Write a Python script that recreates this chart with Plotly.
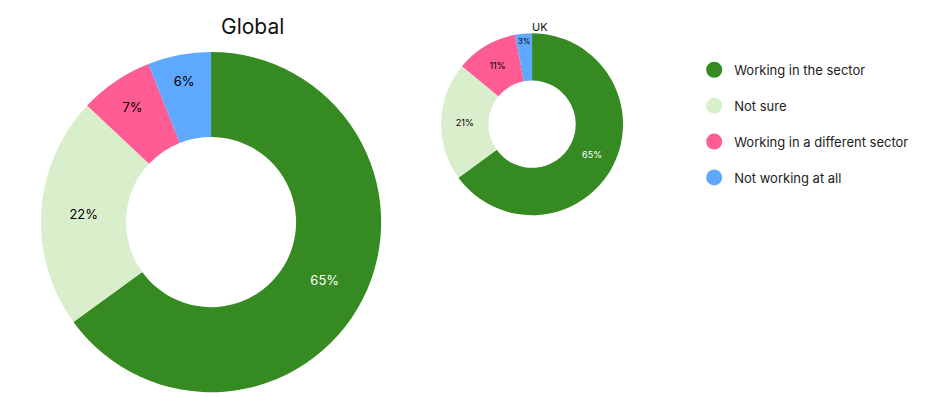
import plotly.graph_objects as go

labels = ["Working in the sector", "Not sure", "Working in a different sector", "Not working at all"]
global_vals = [65, 22, 7, 6]
uk_vals = [65, 21, 11, 3]
colors = ["#358A22", "#D9EFCC", "#FF5C93", "#5EA8FF"]
text_colors = ["white", "black", "black", "black"]

fig = go.Figure()
fig.add_trace(go.Pie(values=global_vals, labels=labels, hole=0.5, sort=False, direction="clockwise",
                     rotation=0, marker=dict(colors=colors), texttemplate="%{value}%", textposition="inside",
                     insidetextorientation="horizontal",
                     textfont=dict(color=text_colors, size=13), showlegend=False, hoverinfo="label+value",
                     domain=dict(x=[0.035, 0.397], y=[0.056, 0.892])))
fig.add_trace(go.Pie(values=uk_vals, labels=labels, hole=0.48, sort=False, direction="clockwise",
                     rotation=0, marker=dict(colors=colors), texttemplate="%{value}%", textposition="inside",
                     insidetextorientation="horizontal",
                     textfont=dict(color=text_colors, size=9), showlegend=False, hoverinfo="label+value",
                     domain=dict(x=[0.4605, 0.6545], y=[0.491, 0.938])))
for i, (lab, c) in enumerate(zip(labels, colors)):
    fig.add_trace(go.Scatter(x=[None], y=[None], mode="markers", name=lab, legendgroup=f"g{i}",
                             marker=dict(color=c, size=20, symbol="circle")))

fig.add_annotation(text="Global", x=0.224, y=0.99, xref="paper", yref="paper", showarrow=False,
                   font=dict(size=21, color="#111"), yanchor="top")
fig.add_annotation(text="UK", x=0.566, y=0.975, xref="paper", yref="paper", showarrow=False,
                   font=dict(size=11, color="#111"), yanchor="top")

fig.update_layout(width=940, height=407, margin=dict(l=0, r=0, t=0, b=0),
                  paper_bgcolor="white", plot_bgcolor="white",
                  font=dict(family="Inter, sans-serif", color="#222"),
                  xaxis=dict(visible=False), yaxis=dict(visible=False),
                  legend=dict(x=0.73, y=0.885, xanchor="left", yanchor="top", font=dict(size=13),
                              itemsizing="trace", tracegroupgap=16, bgcolor="rgba(0,0,0,0)"))
fig.write_html("out.html")
